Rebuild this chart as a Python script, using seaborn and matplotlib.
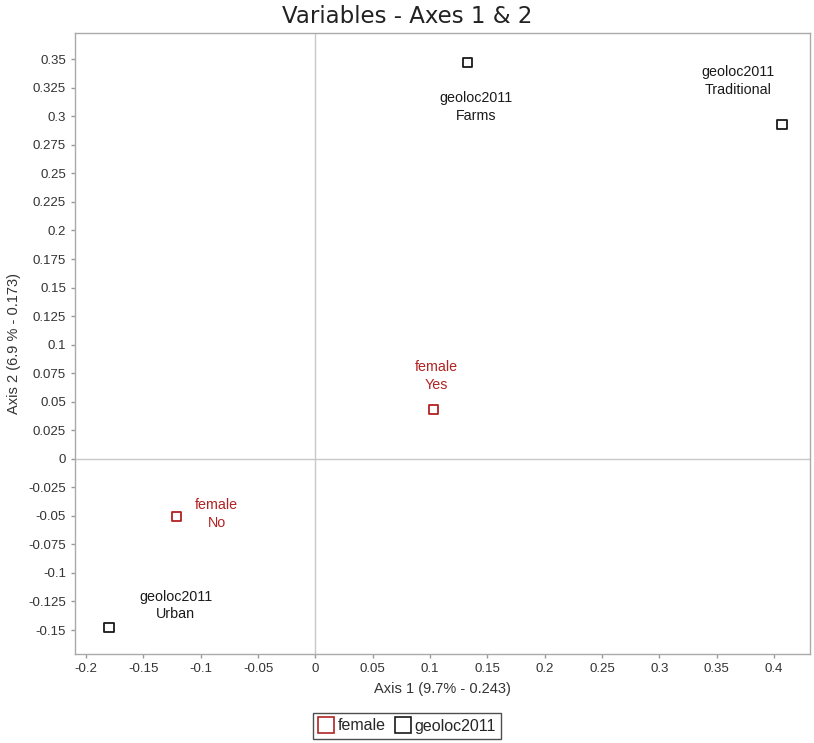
import matplotlib
matplotlib.use("Agg")
import matplotlib.pyplot as plt
import seaborn as sns
import pandas as pd
import numpy as np
from matplotlib.lines import Line2D

sns.set_theme(style="white")
plt.rcParams['font.family'] = ['Liberation Sans', 'DejaVu Sans']

variables = ["female", "female", "geoloc2011", "geoloc2011", "geoloc2011"]
categories = ["Yes", "No", "Farms", "Traditional", "Urban"]
axis1 = [0.103, -0.121, 0.133, 0.407, -0.180]
axis2 = [0.043, -0.0505, 0.347, 0.293, -0.148]

x_ticks = [-0.2, -0.15, -0.1, -0.05, 0, 0.05, 0.1, 0.15, 0.2, 0.25, 0.3, 0.35, 0.4]
y_ticks = [-0.15, -0.125, -0.1, -0.075, -0.05, -0.025, 0, 0.025, 0.05, 0.075, 0.1,
           0.125, 0.15, 0.175, 0.2, 0.225, 0.25, 0.275, 0.3, 0.325, 0.35]

df = pd.DataFrame({"variable": variables, "category": categories, "x": axis1, "y": axis2})
palette = {"female": "#b22222", "geoloc2011": "#1a1a1a"}
# label offsets in points (dx, dy)
offsets = {"Yes": (2, 24), "No": (29, 2), "Farms": (6, -32), "Traditional": (-32, 31), "Urban": (48, 16)}

fig = plt.figure(figsize=(8.14, 7.43), dpi=100)
ax = fig.add_axes([75/814, 1-654/743, (810-75)/814, (654-33)/743])

ax.axhline(0, color="#c8c8c8", lw=1, zorder=0)
ax.axvline(0, color="#c8c8c8", lw=1, zorder=0)

sns.scatterplot(data=df, x="x", y="y", hue="variable", palette=palette, marker="s",
                s=45, facecolors="none", linewidth=1.3, ax=ax, legend=False)
for coll in ax.collections:
    ec = coll.get_facecolors()
    coll.set_edgecolors(ec)
    coll.set_facecolors("none")

for _, r in df.iterrows():
    ax.annotate(f"{r['variable']}\n{r['category']}", (r["x"], r["y"]),
                xytext=offsets[r["category"]], textcoords="offset points",
                ha="center", va="center", fontsize=10.3, linespacing=1.35,
                color=palette[r["variable"]])

ax.set_xlim(-0.2096, 0.4314)
ax.set_ylim(-0.171, 0.373)
ax.set_xticks(x_ticks)
ax.set_xticklabels([f"{t:g}" for t in x_ticks])
ax.set_yticks(y_ticks)
ax.set_yticklabels([f"{t:g}" for t in y_ticks])
ax.tick_params(axis="both", which="both", labelsize=9.5, colors="#999999",
               labelcolor="#333333", length=3, width=1, bottom=True, left=True, direction="out")
for s in ax.spines.values():
    s.set_color("#aaaaaa")
    s.set_linewidth(1)

ax.set_xlabel("Axis 1 (9.7% - 0.243)", fontsize=10.5, color="#333333", labelpad=5)
ax.set_ylabel("Axis 2 (6.9 % - 0.173)", fontsize=10.5, color="#333333", labelpad=5)
fig.suptitle("Variables - Axes 1 & 2", fontsize=16.5, y=0.993, color="#222222",
             family=["DejaVu Sans"])

handles = [Line2D([], [], marker="s", linestyle="none", markerfacecolor="none",
                  markeredgecolor=palette[v], markersize=11, markeredgewidth=1.2, label=v)
           for v in ["female", "geoloc2011"]]
leg = fig.legend(handles=handles, loc="center", bbox_to_anchor=(407/814, 1-726/743), ncol=2,
                 frameon=True, fancybox=False, fontsize=11.5, handletextpad=0.2,
                 columnspacing=0.6, borderpad=0.35, handlelength=1.0, borderaxespad=0)
leg.get_frame().set_edgecolor("#222222")
leg.get_frame().set_linewidth(1)

fig.savefig("out.png", dpi=100)
